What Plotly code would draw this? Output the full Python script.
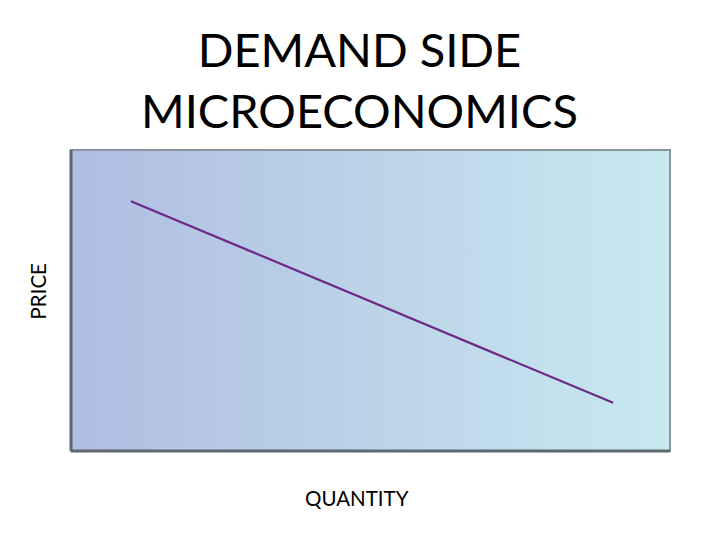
import plotly.graph_objects as go

# demand curve
quantity = [1.0, 9.05]
price = [8.3, 1.6]

x_range = [0, 10]
y_range = [0, 10]

fig = go.Figure()

# gradient plot background
fig.add_trace(go.Scatter(
    x=[x_range[0], x_range[1], x_range[1], x_range[0], x_range[0]],
    y=[y_range[0], y_range[0], y_range[1], y_range[1], y_range[0]],
    fill="toself", mode="none", hoverinfo="skip", showlegend=False,
    fillgradient=dict(type="horizontal",
                      colorscale=[[0, "#afbde2"], [0.5, "#bcd3e8"], [1, "#c8e9f0"]]),
))

fig.add_trace(go.Scatter(
    x=quantity, y=price, mode="lines", showlegend=False,
    line=dict(color="#6a2a86", width=2.2),
))

fig.update_xaxes(range=x_range, visible=False, fixedrange=True)
fig.update_yaxes(range=y_range, visible=False, fixedrange=True)

# frame: grey box, darker on left and bottom
fig.add_shape(type="rect", xref="paper", yref="paper", x0=0, y0=0, x1=1, y1=1,
              line=dict(color="#8a949c", width=2))
fig.add_shape(type="line", xref="paper", yref="paper", x0=0, y0=0, x1=0, y1=1,
              line=dict(color="#5f6870", width=3))
fig.add_shape(type="line", xref="paper", yref="paper", x0=0, y0=0, x1=1, y1=0,
              line=dict(color="#5f6870", width=3))

font = "Lato, 'Open Sans', sans-serif"

fig.add_annotation(text="DEMAND SIDE<br>MICROECONOMICS", xref="paper", yref="paper",
                   x=0.4816, y=1.0, yshift=10, xanchor="center", yanchor="bottom",
                   showarrow=False, font=dict(family=font, size=47, color="#000000"))
fig.add_annotation(text="PRICE", xref="paper", yref="paper", x=0, xshift=-33,
                   y=0.53, xanchor="center", yanchor="middle", textangle=-90,
                   showarrow=False, font=dict(family=font, size=20.5, color="#000000"))
fig.add_annotation(text="QUANTITY", xref="paper", yref="paper", x=0.477,
                   y=0, yshift=-47, xanchor="center", yanchor="middle",
                   showarrow=False, font=dict(family=font, size=20.5, color="#000000"))

fig.update_layout(
    width=720, height=540,
    margin=dict(l=63, r=58, t=142, b=97),
    paper_bgcolor="white", plot_bgcolor="white",
)

fig.write_html("out.html")
